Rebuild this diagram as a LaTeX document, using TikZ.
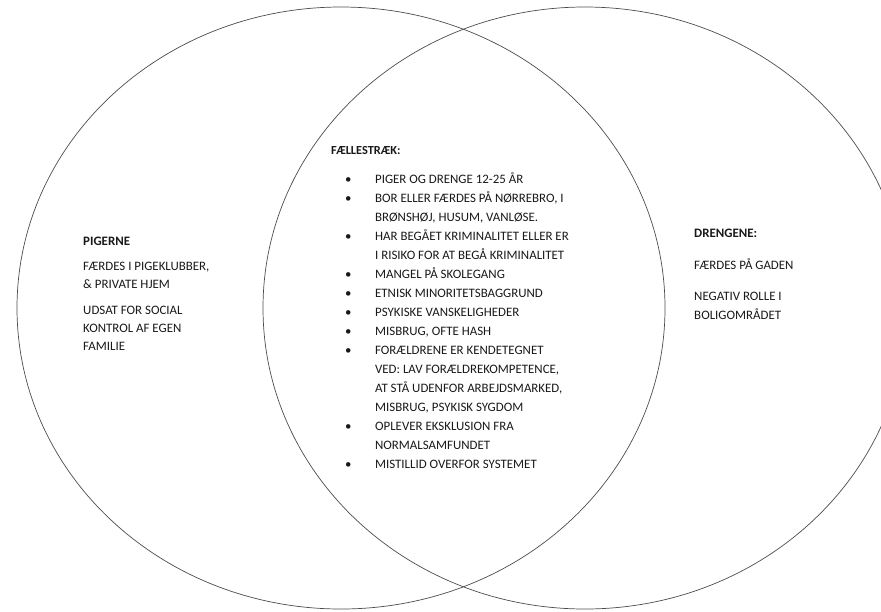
\documentclass[tikz,border=0pt]{standalone}
\usepackage{fontspec}
\setmainfont{Carlito}
\newcommand{\pkt}{\makebox[25.5pt][l]{\textbullet}}
\newcommand{\ind}{\hspace*{25.5pt}}

\begin{document}
\begin{tikzpicture}[x=0.03cm, y=-0.03cm,
    ring/.style={draw=black!70, line width=0.6pt},
    txt/.style={inner sep=0pt, anchor=base west, align=left, text=black!90,
      font=\fontsize{11}{16.2}\selectfont}]
      \useasboundingbox (0,0) rectangle (881,611);
      \clip (0,0) rectangle (881,611);
      \draw [ring] (341,308) ellipse [x radius=324, y radius=301];
      \draw [ring] (585,308) ellipse [x radius=322, y radius=301];
      % left side (base = last line)
      \node [txt, font=\fontsize{11}{15.3}\selectfont] (girls) at (83,350)
      {\textbf{PIGERNE}\\[6.5pt]
       FÆRDES I PIGEKLUBBER,\\
       \& PRIVATE HJEM\\[6.5pt]
       UDSAT FOR SOCIAL\\
       KONTROL AF EGEN\\
       FAMILIE};
      % middle
      \node [txt, font=\fontsize{10.5}{16.2}\selectfont\bfseries] (common) at (331,154) {FÆLLESTRÆK:};
      \node [txt] (commonlist) at (345,468)
      {\pkt PIGER OG DRENGE 12-25 ÅR\\
       \pkt BOR ELLER FÆRDES PÅ NØRREBRO, I\\
       \ind BRØNSHØJ, HUSUM, VANLØSE.\\
       \pkt HAR BEGÅET KRIMINALITET ELLER ER\\
       \ind I RISIKO FOR AT BEGÅ KRIMINALITET\\
       \pkt MANGEL PÅ SKOLEGANG\\
       \pkt ETNISK MINORITETSBAGGRUND\\
       \pkt PSYKISKE VANSKELIGHEDER\\
       \pkt MISBRUG, OFTE HASH\\
       \pkt FORÆLDRENE ER KENDETEGNET\\
       \ind VED: LAV FORÆLDREKOMPETENCE,\\
       \ind AT STÅ UDENFOR ARBEJDSMARKED,\\
       \ind MISBRUG, PSYKISK SYGDOM\\
       \pkt OPLEVER EKSKLUSION FRA\\
       \ind NORMALSAMFUNDET\\
       \pkt MISTILLID OVERFOR SYSTEMET};
      % right side
      \node [txt] (boys) at (694,319)
      {\textbf{DRENGENE:}\\[11pt]
       FÆRDES PÅ GADEN\\[10pt]
       NEGATIV ROLLE I\\
       BOLIGOMRÅDET};
    \end{tikzpicture}
\end{document}
